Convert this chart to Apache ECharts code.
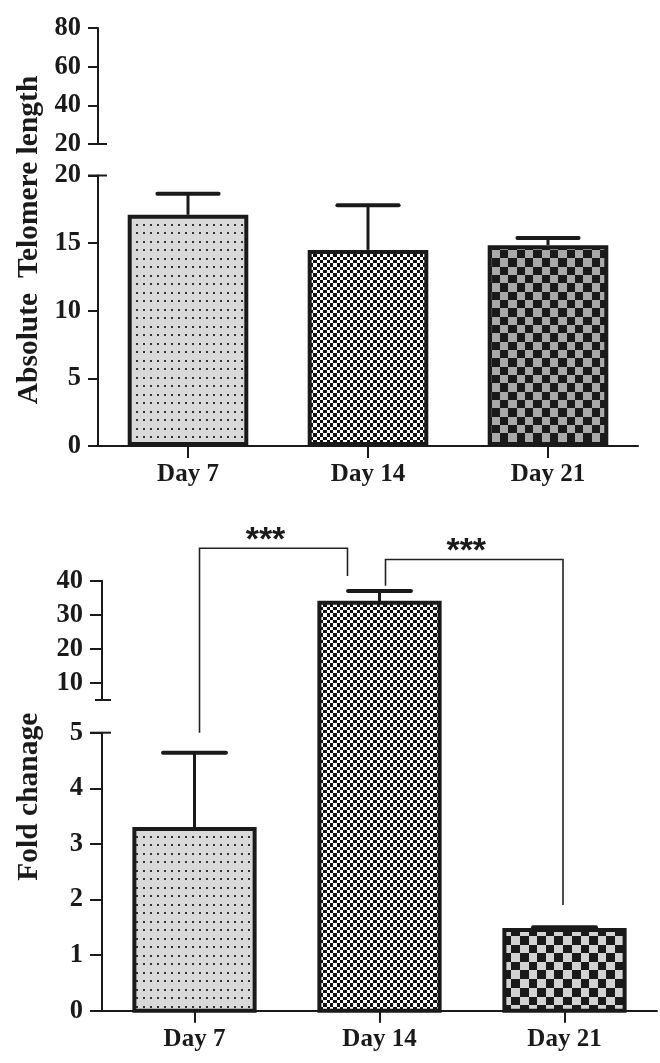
<!DOCTYPE html>
<html>
<head>
<meta charset="utf-8">
<script src="https://cdn.jsdelivr.net/npm/echarts@6/dist/echarts.min.js"></script>
<style>
html,body{margin:0;padding:0;background:#ffffff;}
#c{width:660px;height:1063px;}
</style>
</head>
<body>
<div id="c"></div>
<script>
// ---------------- DATA ----------------
const categories = ['Day 7', 'Day 14', 'Day 21'];

// Panel A: absolute telomere length (mean, SD)
const telomereMean = [17.1, 14.5, 14.85];
const telomereSD = [1.55, 3.3, 0.52];
const telomereUpperTicks = [20, 40, 60, 80];
const telomereLowerTicks = [0, 5, 10, 15, 20];

// Panel B: fold change (mean, SD)
const foldMean = [3.27, 33.5, 1.45];
const foldSD = [1.37, 3.5, 0.05];
const foldUpperTicks = [10, 20, 30, 40];
const foldLowerTicks = [0, 1, 2, 3, 4, 5];
const foldBreak = 5;

// significance brackets: [from category, to category]
const sigPairs = [[0, 1], [1, 2]];
const sigLevel = [49.5, 46.2];      // height of horizontal bar (fold units)
const sigFromEnd = [5, 38.5];       // lower end of left leg
const sigToEnd = [41.4, 1.9];       // lower end of right leg
const sigLabels = ['***', '***'];

const yTitleA = 'Absolute  Telomere length';
const yTitleB = 'Fold chanage';

// ---------------- STYLE ----------------
const INK = '#1a1a1a';
const SERIF = '"Liberation Serif", "Times New Roman", serif';
const SANS = '"Liberation Sans", Arial, sans-serif';
const sigXOffset = [[5, -32], [6, -1.5]];

function makePattern(w, h, draw) {
  const c = document.createElement('canvas');
  c.width = w; c.height = h;
  draw(c.getContext('2d'));
  return { image: c, repeat: 'repeat' };
}
function checker(bounds, c1, c2) {
  const n = bounds[bounds.length - 1];
  return makePattern(n, n, g => {
    for (let i = 0; i < bounds.length - 1; i++) {
      for (let j = 0; j < bounds.length - 1; j++) {
        g.fillStyle = (i + j) % 2 ? c2 : c1;
        g.fillRect(bounds[i], bounds[j], bounds[i + 1] - bounds[i], bounds[j + 1] - bounds[j]);
      }
    }
  });
}
const dots = makePattern(7, 17, g => {
  g.fillStyle = '#d9d9d9'; g.fillRect(0, 0, 7, 17);
  g.fillStyle = '#333333'; g.fillRect(3, 3, 2, 2); g.fillRect(3, 11, 2, 2);
});
const fine = checker([0, 3, 7, 10, 13, 17, 20], '#111111', '#ffffff');
const coarseDark = checker([0, 8, 17, 25, 33, 42, 50], '#1a1a1a', '#a9a9a9');
const coarseLight = checker([0, 9, 17, 26, 34, 43, 52], '#1a1a1a', '#d2d2d2');
const patternsA = [dots, fine, coarseDark];
const patternsB = [dots, fine, coarseLight];

const grids = [
  { left: 98, width: 540, top: 28, height: 116 },
  { left: 98, width: 540, top: 175.5, height: 270.5 },
  { left: 102, width: 555, top: 580.7, height: 119.3 },
  { left: 102, width: 555, top: 732.7, height: 278 }
];

const catLabelStyle = { color: INK, fontFamily: SERIF, fontWeight: 'bold', fontSize: 25 };
const valLabelStyle = { color: INK, fontFamily: SERIF, fontWeight: 'bold', fontSize: 26.5 };

function yAxisCfg(gridIndex, ticks, extra) {
  const base = {
    type: 'value', gridIndex: gridIndex,
    min: ticks[0], max: ticks[ticks.length - 1], interval: ticks[1] - ticks[0],
    splitLine: { show: false },
    axisLine: { show: true, lineStyle: { color: INK, width: 2 } },
    axisTick: { show: true, length: gridIndex < 2 ? 10 : 12, lineStyle: { color: INK, width: 2 } },
    axisLabel: Object.assign({ margin: gridIndex < 2 ? 17 : 19 }, valLabelStyle)
  };
  return Object.assign(base, extra || {});
}

const chart = echarts.init(document.getElementById('c'), null, { renderer: 'canvas' });

const upperFold = yAxisCfg(2, foldUpperTicks, {
  min: foldBreak, max: foldUpperTicks[foldUpperTicks.length - 1], splitNumber: 4,
  axisLabel: Object.assign({ margin: 19, customValues: foldUpperTicks }, valLabelStyle),
  axisTick: { show: true, length: 12, customValues: foldUpperTicks, lineStyle: { color: INK, width: 2 } }
});
delete upperFold.interval;

const option = {
  animation: false,
  backgroundColor: '#ffffff',
  grid: grids.map(g => Object.assign({ containLabel: false, outerBoundsMode: 'none' }, g)),
  xAxis: [0, 1, 2, 3].map(i => ({
    type: 'category', gridIndex: i, data: categories,
    show: i === 1 || i === 3,
    axisLine: { show: true, lineStyle: { color: INK, width: 2 } },
    axisTick: { show: true, alignWithLabel: true, length: 12, lineStyle: { color: INK, width: 2 } },
    axisLabel: Object.assign({ margin: 16 }, catLabelStyle),
    splitLine: { show: false }
  })),
  yAxis: [
    yAxisCfg(0, telomereUpperTicks),
    yAxisCfg(1, telomereLowerTicks),
    upperFold,
    yAxisCfg(3, foldLowerTicks)
  ],
  series: []
};
chart.setOption(option);

// ---------- pixel helpers through the library's scales ----------
function px(axisIdx, v) { return chart.convertToPixel({ yAxisIndex: axisIdx }, v); }
function catX(axisIdx, i) { return chart.convertToPixel({ xAxisIndex: axisIdx }, categories[i]); }
function foldY(v) { return v <= foldBreak ? px(3, v) : px(2, v); }

const foldTopPx = foldMean.map(v => foldY(v));
const foldErrPx = foldMean.map((v, i) => foldY(v + foldSD[i]));

// ---------------- SERIES ----------------
const series = [];

// Panel A error bars
series.push({
  type: 'custom', xAxisIndex: 1, yAxisIndex: 1, z: 1,
  data: categories.map((c, i) => [i, telomereMean[i], telomereSD[i]]),
  renderItem: function (params, api) {
    const i = api.value(0), m = api.value(1), e = api.value(2);
    const b = api.coord([i, m]), t = api.coord([i, m + e]);
    const half = api.size([1, 0])[0] * 0.17;
    return { type: 'group', children: [
      { type: 'line', shape: { x1: b[0], y1: b[1], x2: t[0], y2: t[1] }, style: { stroke: INK, lineWidth: 3 } },
      { type: 'line', shape: { x1: t[0] - half, y1: t[1], x2: t[0] + half, y2: t[1] }, style: { stroke: INK, lineWidth: 4, lineCap: 'round' } }
    ] };
  }
});
// Panel A bars
series.push({
  type: 'bar', xAxisIndex: 1, yAxisIndex: 1, z: 2, barWidth: '67%',
  data: telomereMean.map((v, i) => ({ value: v, itemStyle: { color: patternsA[i] } })),
  itemStyle: { borderColor: INK, borderWidth: 4 }
});
// Panel B error bars (span broken axis)
series.push({
  type: 'custom', xAxisIndex: 3, yAxisIndex: 3, z: 1, clip: false,
  data: categories.map((c, i) => [i, foldMean[i], foldSD[i]]),
  renderItem: function (params, api) {
    const i = params.dataIndex;
    const x = api.coord([api.value(0), 0])[0];
    const yb = foldTopPx[i], yt = foldErrPx[i];
    const half = api.size([1, 0])[0] * 0.17;
    return { type: 'group', children: [
      { type: 'line', shape: { x1: x, y1: yb, x2: x, y2: yt }, style: { stroke: INK, lineWidth: 3 } },
      { type: 'line', shape: { x1: x - half, y1: yt, x2: x + half, y2: yt }, style: { stroke: INK, lineWidth: 4, lineCap: 'round' } }
    ] };
  }
});
// Panel B bars (continuous through the axis break)
series.push({
  type: 'custom', xAxisIndex: 3, yAxisIndex: 3, z: 2, clip: false,
  data: categories.map((c, i) => [i, foldMean[i]]),
  renderItem: function (params, api) {
    const i = params.dataIndex;
    const base = api.coord([api.value(0), 0]);
    const w = api.size([1, 0])[0] * 0.65;
    const yt = foldTopPx[i];
    return { type: 'rect', shape: { x: base[0] - w / 2, y: yt, width: w, height: base[1] - yt },
      style: { fill: patternsB[i], stroke: INK, lineWidth: 4 } };
  }
});

// ---------------- GRAPHICS ----------------
const graphic = [];
function hline(x1, x2, y, w) {
  graphic.push({ type: 'line', z: 10, shape: { x1: x1, y1: y, x2: x2, y2: y }, style: { stroke: INK, lineWidth: w || 2 } });
}
// axis break marks
hline(grids[0].left - 10, grids[0].left + 9, px(0, telomereUpperTicks[0]));
hline(grids[1].left - 10, grids[1].left + 9, px(1, telomereLowerTicks[telomereLowerTicks.length - 1]));
hline(grids[2].left - 7, grids[2].left + 9, px(2, foldBreak));
hline(grids[3].left - 12, grids[3].left + 9, px(3, foldBreak));

// rotated y titles
const cA = (px(0, telomereUpperTicks[telomereUpperTicks.length - 1]) + px(1, 0)) / 2 + 3;
const cB = (px(2, foldUpperTicks[foldUpperTicks.length - 1]) + px(3, 0)) / 2 + 1;
[[yTitleA, cA], [yTitleB, cB]].forEach(([t, cy]) => {
  graphic.push({ type: 'text', x: 29, y: cy, rotation: Math.PI / 2, z: 10,
    style: { text: t, font: 'bold 29.5px ' + SERIF, fill: INK, align: 'center', verticalAlign: 'middle',
      textAlign: 'center', textVerticalAlign: 'middle' } });
});

// significance brackets
sigPairs.forEach((p, k) => {
  const xa = catX(3, p[0]) + sigXOffset[k][0];
  const xb = catX(3, p[1]) + sigXOffset[k][1];
  const yl = foldY(sigLevel[k]);
  graphic.push({ type: 'polyline', z: 10,
    shape: { points: [[xa, foldY(sigFromEnd[k])], [xa, yl], [xb, yl], [xb, foldY(sigToEnd[k])]] },
    style: { stroke: '#222222', lineWidth: 1.6, fill: null } });
  graphic.push({ type: 'text', x: (xa + xb) / 2 - 8, y: yl - 8, z: 10,
    style: { text: sigLabels[k], font: 'bold 34px ' + SANS, fill: INK, align: 'center', verticalAlign: 'middle',
      textAlign: 'center', textVerticalAlign: 'middle' } });
});

chart.setOption({ series: series, graphic: graphic });
</script>
</body>
</html>
